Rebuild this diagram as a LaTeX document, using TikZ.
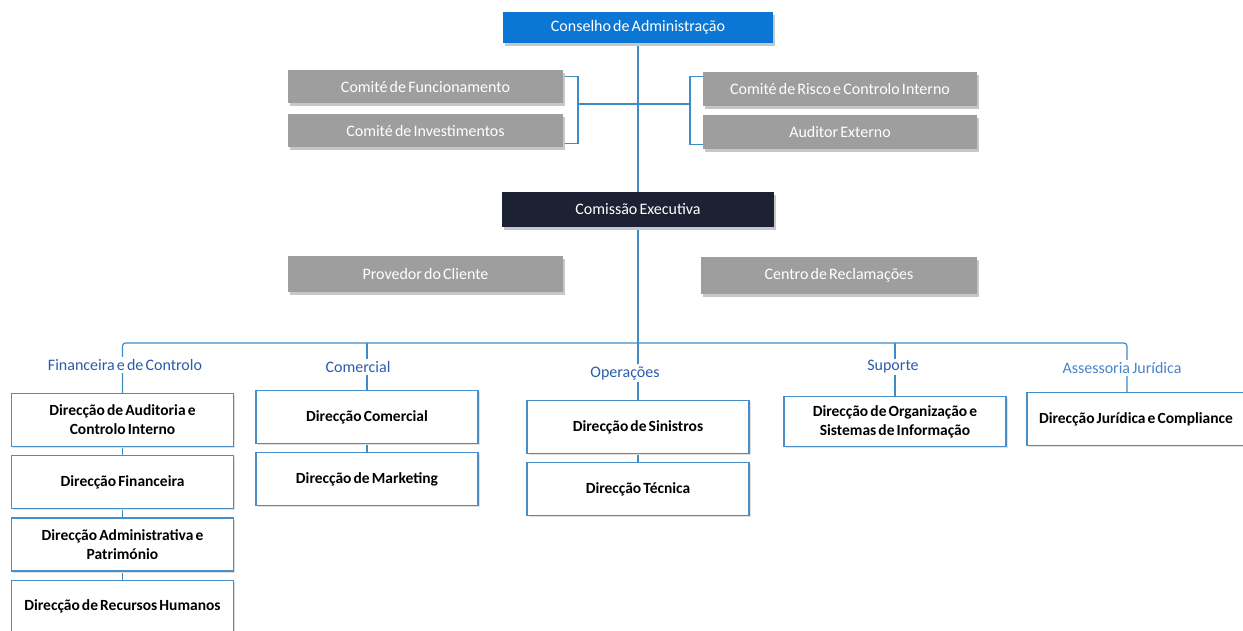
\documentclass[tikz,border=0pt]{standalone}
\usepackage{fontspec}
\setmainfont{Carlito}[WordSpace=0.6]
\usetikzlibrary{positioning,backgrounds,shadows}

\definecolor{chairblue}{RGB}{12,118,212}
\definecolor{execnavy}{RGB}{28,34,52}
\definecolor{boxgray}{RGB}{158,158,158}
\definecolor{linkblue}{RGB}{62,140,198}
\definecolor{dirblue}{RGB}{72,142,200}
\definecolor{areablue}{RGB}{42,92,172}
\definecolor{areapale}{RGB}{72,132,204}

\begin{document}
\begin{tikzpicture}[x=1pt, y=-1pt,
    every node/.style={font=\fontsize{16}{18}\selectfont},
    board/.style={rectangle, text=white, text centered, minimum width=275pt, minimum height=33pt,
    drop shadow={shadow xshift=2pt, shadow yshift=-3pt, fill=black!22, opacity=1}},
    committee/.style={board, fill=boxgray},
    direction/.style={rectangle, draw=dirblue, line width=1.2pt, fill=white, text=black, anchor=north,
    align=center, minimum width=222pt, minimum height=53pt, inner sep=2pt,
    font=\fontsize{15.5}{19}\selectfont\bfseries,
    drop shadow={shadow xshift=1.5pt, shadow yshift=-1.5pt, fill=black!12, opacity=1}},
    area/.style={text=areablue, fill=white, inner sep=2pt, font=\fontsize{16}{18}\selectfont},
    link/.style={draw=linkblue, line width=1.2pt}]
    \useasboundingbox (0,0) rectangle (1243,630);

    % board and committees
    \node (conselho) [board, fill=chairblue, minimum width=270pt, minimum height=31pt] at (638,27.5) {Conselho de Administração};
    \node (funcionamento) [committee] at (425.5,86.5) {Comité de Funcionamento};
    \node (investimentos) [committee, below=11pt of funcionamento] {Comité de Investimentos};
    \node (risco) [committee, minimum width=274pt, minimum height=34pt] at (840,89) {Comité de Risco e Controlo Interno};
    \node (auditor) [committee, minimum width=274pt, minimum height=34pt, below=9pt of risco] {Auditor Externo};
    \coordinate (lbrace) at (578,104);
    \coordinate (rbrace) at (690,104);

    \node (comissao) [board, fill=execnavy, minimum width=272pt, minimum height=35pt] at (638,209.5) {Comissão Executiva};
    \node (provedor) [committee, minimum height=36pt] at (425.5,274) {Provedor do Cliente};
    \node (reclamacoes) [committee, minimum width=276pt, minimum height=37pt] at (839,275.5) {Centro de Reclamações};

    % areas
    \node (financeira) [area] at (125,365) {Financeira e de Controlo};
    \node (comercial) [area] at (358,367) {Comercial};
    \node (operacoes) [area] at (625,373) {Operações};
    \node (suporte) [area] at (893,367) {Suporte};
    \node (assessoria) [area, text=areapale] at (1122,368) {Assessoria Jurídica};
    \coordinate (busend) at (1127,343);

    % direcções
    \node (auditoria) [direction] at (122.5,393) {Direcção de Auditoria e\\Controlo Interno};
    \node (financeiro) [direction, below=8pt of auditoria] {Direcção Financeira};
    \node (administrativa) [direction, below=8pt of financeiro] {Direcção Administrativa e\\Património};
    \node (rh) [direction, below=8pt of administrativa] {Direcção de Recursos Humanos};

    \node (dcomercial) [direction] at (367,390) {Direcção Comercial};
    \node (marketing) [direction, below=8pt of dcomercial] {Direcção de Marketing};

    \node (sinistros) [direction] at (638,400) {Direcção de Sinistros};
    \node (tecnica) [direction, below=8pt of sinistros] {Direcção Técnica};

    \node (organizacao) [direction, minimum height=50pt] at (895,396) {Direcção de Organização e\\Sistemas de Informação};
    \node (juridica) [direction, minimum width=218pt] at (1136,392) {Direcção Jurídica e Compliance};

    \begin{scope}[on background layer]
        \fill[white] (0,0) rectangle (1243,630);
        \draw[link] (conselho) -- (comissao);
        \draw[link] (comissao) -- (sinistros);
        \draw[link] ([yshift=-7pt]funcionamento.north east) -| (lbrace) |- ([yshift=4pt]investimentos.south east);
        \draw[link] ([yshift=-5pt]risco.north west) -| (rbrace) |- ([yshift=5pt]auditor.south west);
        \draw[link] (lbrace) -- (rbrace);
        \draw[link, rounded corners=3pt] (auditoria.north) |- (busend) -- (busend |- juridica.north);
        \draw[link] (dcomercial.north) -- (dcomercial.north |- busend);
        \draw[link] (organizacao.north) -- (organizacao.north |- busend);
        \draw[link] (auditoria) -- (financeiro);
        \draw[link] (financeiro) -- (administrativa);
        \draw[link] (administrativa) -- (rh);
        \draw[link] (dcomercial) -- (marketing);
        \draw[link] (sinistros) -- (tecnica);
    \end{scope}
\end{tikzpicture}
\end{document}
